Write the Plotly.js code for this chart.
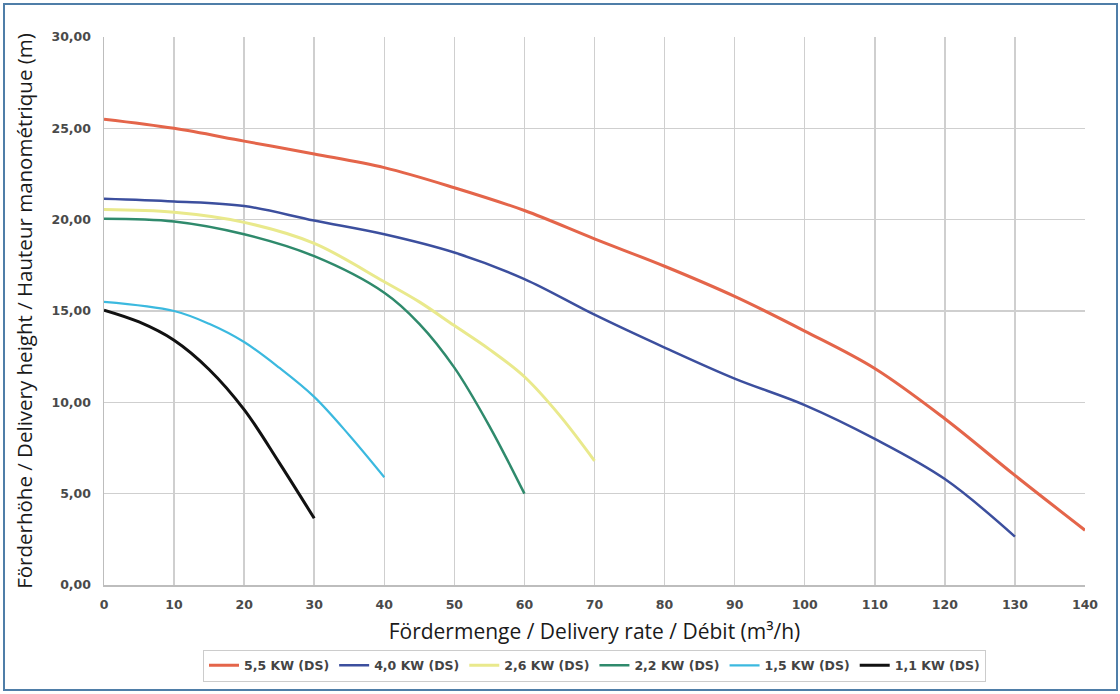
<!DOCTYPE html>
<html>
<head>
<meta charset="utf-8">
<script src="https://cdn.plot.ly/plotly-3.0.1.min.js"></script>
<style>
  html, body { margin: 0; padding: 0; background: #ffffff; }
  #wrap { position: relative; width: 1120px; height: 694px; }
  #plot { width: 1120px; height: 694px; }
  #frame { position: absolute; left: 3px; top: 3px; width: 1111px; height: 684px;
           border: 2px solid #4f7ea8; pointer-events: none; }
</style>
</head>
<body>
<div id="wrap"><div id="plot"></div><div id="frame"></div></div>
<script>
// Delivery rate (m³/h) and delivery height (m) per pump
const seriesNames = ["5,5 KW (DS)", "4,0 KW (DS)", "2,6 KW (DS)", "2,2 KW (DS)", "1,5 KW (DS)", "1,1 KW (DS)"];

const x55 = [0, 10, 20, 30, 40, 50, 60, 70, 80, 90, 100, 110, 120, 130, 140];
const y55 = [25.5, 25.0, 24.3, 23.6, 22.85, 21.75, 20.5, 18.95, 17.45, 15.8, 13.9, 11.85, 9.1, 6.0, 3.0];

const x40 = [0, 10, 20, 30, 40, 50, 60, 70, 80, 90, 100, 110, 120, 130];
const y40 = [21.15, 21.0, 20.75, 19.95, 19.2, 18.2, 16.75, 14.8, 13.0, 11.3, 9.85, 8.0, 5.8, 2.65];

const x26 = [0, 10, 20, 30, 40, 45, 50, 55, 60, 65, 70];
const y26 = [20.55, 20.4, 19.85, 18.7, 16.6, 15.5, 14.2, 12.9, 11.4, 9.3, 6.8];

const x22 = [0, 10, 20, 30, 40, 45, 50, 55, 60];
const y22 = [20.05, 19.9, 19.2, 18.0, 16.0, 14.3, 11.9, 8.7, 5.0];

const x15 = [0, 10, 15, 20, 25, 30, 35, 40];
const y15 = [15.5, 15.0, 14.3, 13.3, 11.9, 10.3, 8.2, 5.9];

const x11 = [0, 5, 10, 15, 20, 25, 30];
const y11 = [15.05, 14.4, 13.4, 11.8, 9.6, 6.7, 3.65];

const xTicks = [0, 10, 20, 30, 40, 50, 60, 70, 80, 90, 100, 110, 120, 130, 140];
const yTicks = [0, 5, 10, 15, 20, 25, 30];

const xs = [x55, x40, x26, x22, x15, x11];
const ys = [y55, y40, y26, y22, y15, y11];
const colors = ["#e4654a", "#3c4f9e", "#e9e98c", "#2f8a6c", "#3bb9df", "#111111"];
const widths = [3, 2.5, 3, 2.5, 2.2, 3];

const traces = seriesNames.map((n, i) => ({
  type: "scatter", mode: "lines", name: n,
  x: xs[i], y: ys[i],
  line: { color: colors[i], width: widths[i], shape: "spline", smoothing: 1 }
}));

const tickFont = { family: "DejaVu Sans, sans-serif", size: 12.5, color: "#4a4a4a", weight: "bold" };

const layout = {
  width: 1120, height: 694,
  margin: { l: 104, r: 35, t: 37, b: 107 },
  paper_bgcolor: "#ffffff", plot_bgcolor: "#ffffff",
  separators: ",.",
  showlegend: true,
  xaxis: {
    range: [0, 140], tickvals: xTicks, ticktext: xTicks.map(String),
    showgrid: true, gridcolor: "#cfcfcf", gridwidth: 1.5,
    showline: true, linecolor: "#bdbdbd", linewidth: 1.5,
    zeroline: false,
    ticks: "outside", ticklen: 7, tickcolor: "rgba(0,0,0,0)",
    tickfont: tickFont,
    title: { text: "Fördermenge / Delivery rate / Débit (m³/h)", standoff: 14,
             font: { family: "Open Sans, Noto Sans, sans-serif", size: 21, color: "#1a1a1a" } }
  },
  yaxis: {
    range: [0, 30], tickvals: yTicks, tickformat: ".2f",
    showgrid: true, gridcolor: "#cfcfcf", gridwidth: 1.5,
    showline: true, linecolor: "#bdbdbd", linewidth: 1.5,
    zeroline: false,
    ticks: "outside", ticklen: 9, tickcolor: "rgba(0,0,0,0)",
    tickfont: tickFont,
    title: { text: "Förderhöhe / Delivery height / Hauteur manométrique (m)", standoff: 13,
             font: { family: "Open Sans, Noto Sans, sans-serif", size: 20.5, color: "#1a1a1a" } }
  },
  legend: {
    orientation: "h", x: 0.5, xanchor: "center", y: -0.118, yanchor: "top",
    bordercolor: "#cccccc", borderwidth: 1, bgcolor: "#ffffff",
    font: { family: "DejaVu Sans, sans-serif", size: 12.5, color: "#444444", weight: "bold" },
    itemwidth: 30, tracegroupgap: 0
  }
};

Plotly.newPlot("plot", traces, layout, { displayModeBar: false, staticPlot: true });
</script>
</body>
</html>
